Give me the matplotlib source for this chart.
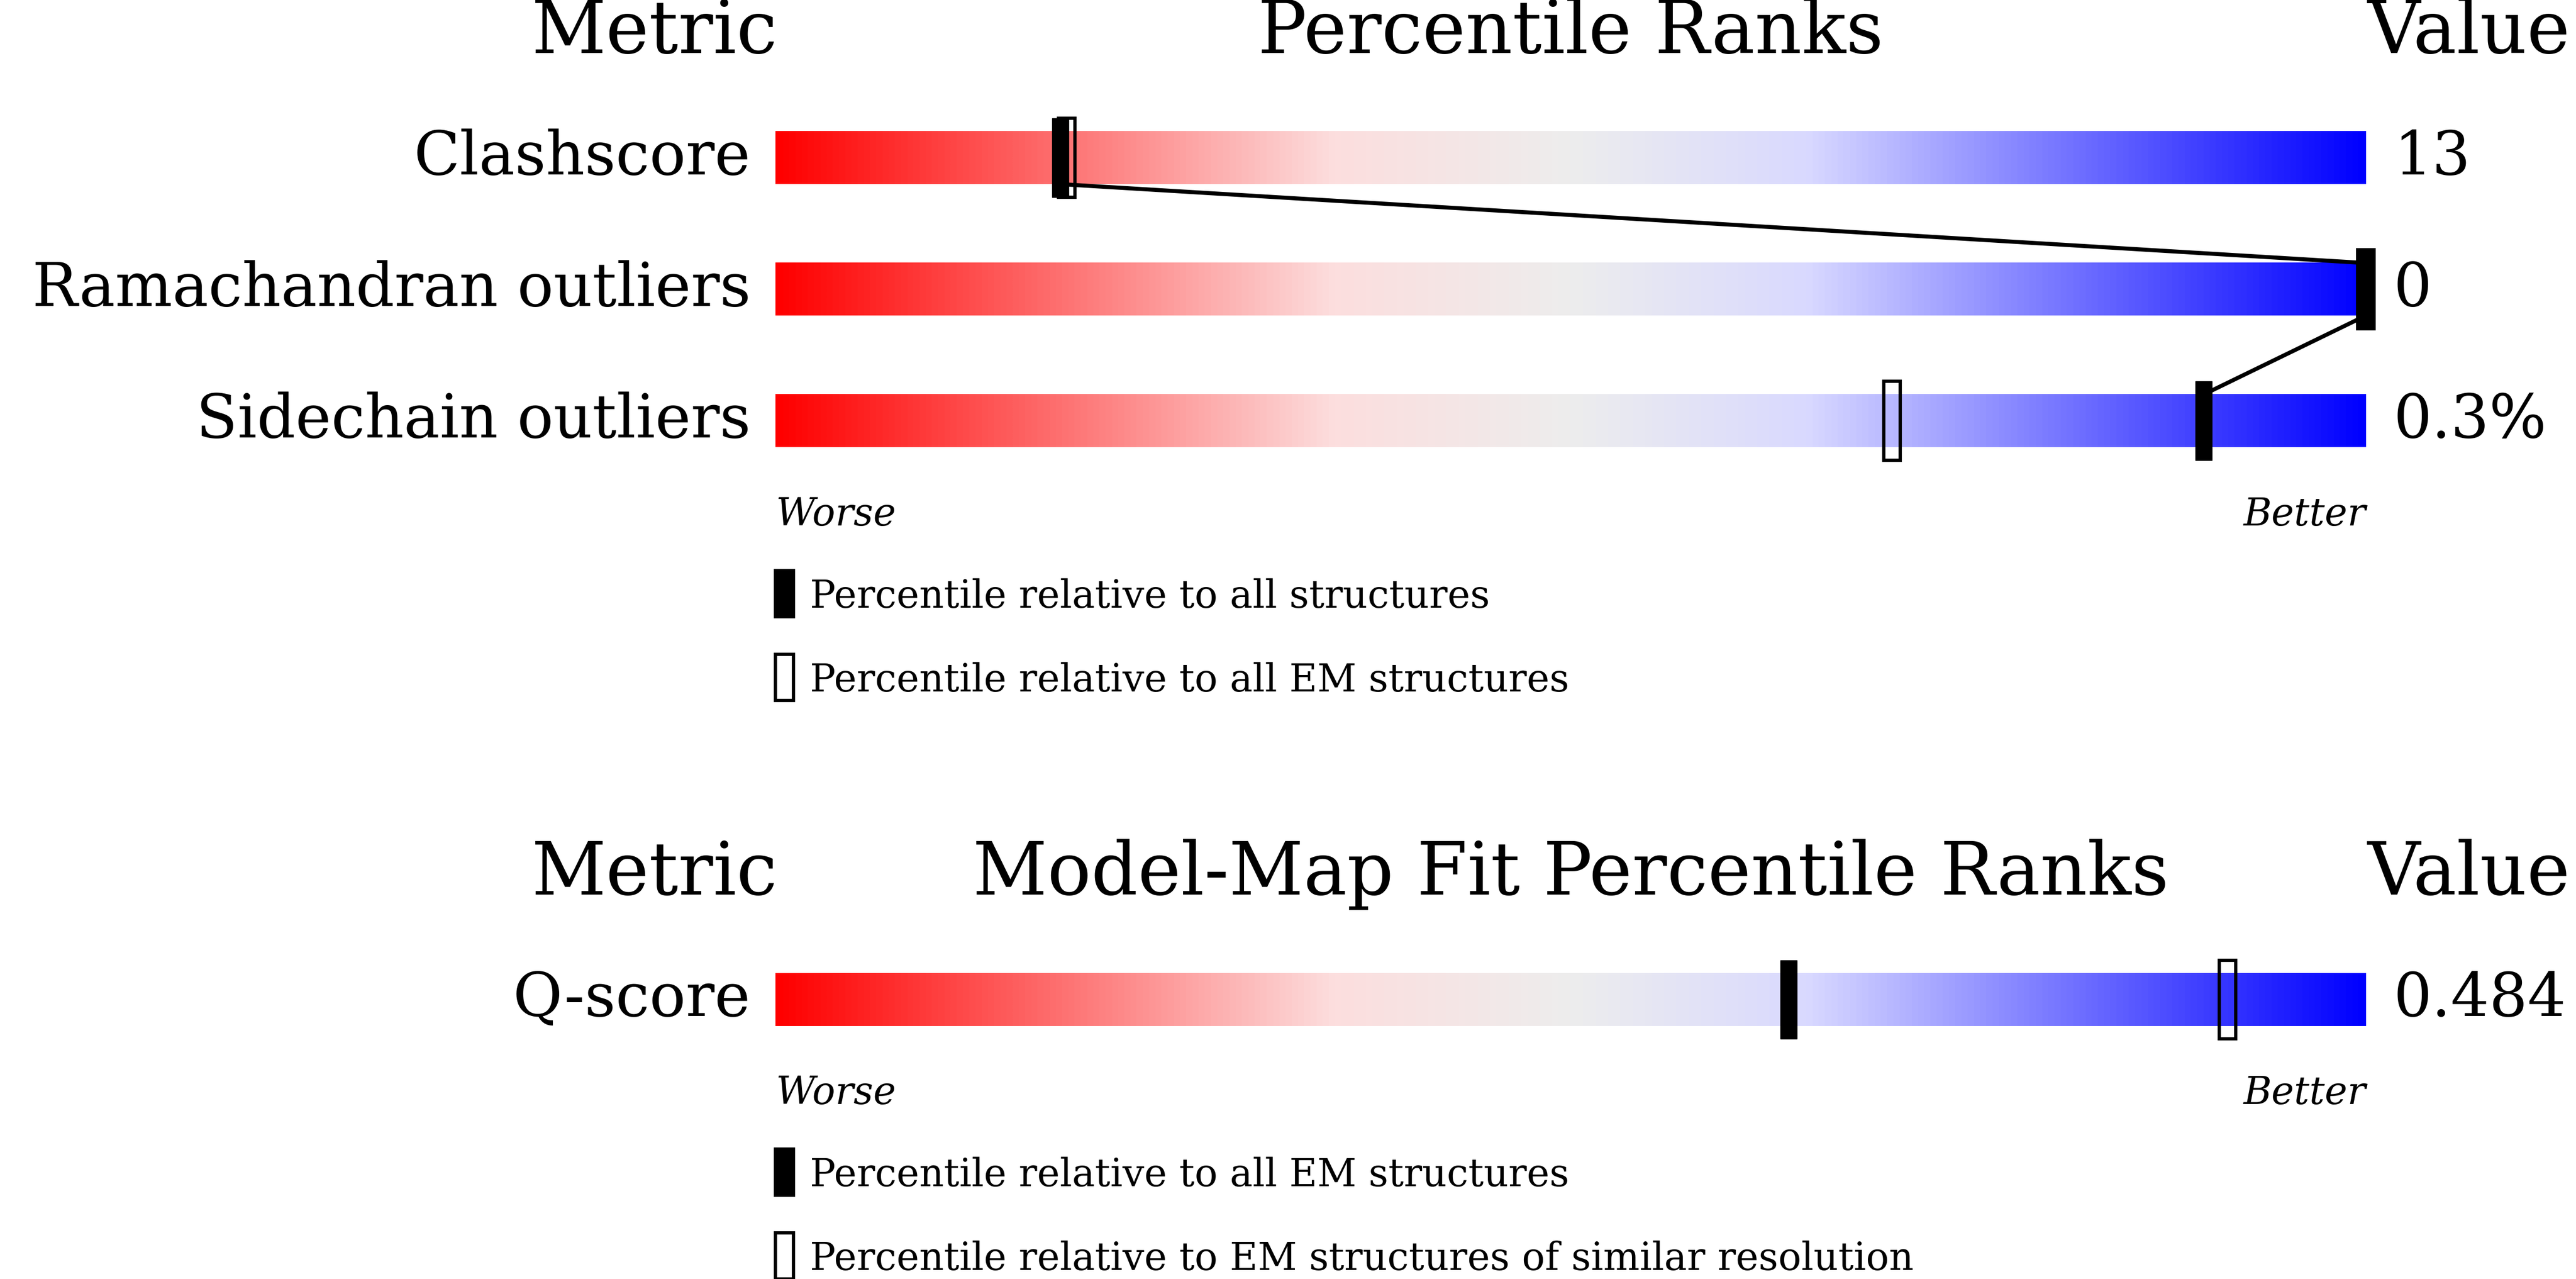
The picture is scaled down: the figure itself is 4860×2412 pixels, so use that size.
import matplotlib
matplotlib.use("Agg")
import matplotlib.pyplot as plt
import numpy as np
from matplotlib.colors import LinearSegmentedColormap
from matplotlib.patches import Rectangle

plt.rcParams["font.family"] = ["DejaVu Serif"]

# ----- data ----------------------------------------------------------
geo_metrics = ["Clashscore", "Ramachandran outliers", "Sidechain outliers"]
geo_values = ["13", "0", "0.3%"]
geo_all = [17.9, 100.0, 89.8]      # percentile vs all structures (filled)
geo_em = [18.3, 100.0, 70.2]       # percentile vs EM structures (open)

fit_metrics = ["Q-score"]
fit_values = ["0.484"]
fit_all_em = [63.7]                # vs all EM structures (filled)
fit_similar = [91.3]               # vs EM of similar resolution (open)

geo_legend = ["Percentile relative to all structures",
              "Percentile relative to all EM structures"]
fit_legend = ["Percentile relative to all EM structures",
              "Percentile relative to EM structures of similar resolution"]

# ----- layout (reference pixel grid 1568 x 778) ----------------------
W, H = 1568, 778
BAR_L, BAR_R = 472, 1440
PPX = (BAR_R - BAR_L) / 100.0     # display px per percent
BAR_H = 32
MARK_W = 10 / PPX
MARK_EXT = 8

cmap = LinearSegmentedColormap.from_list("rb", [
    (0.0, (1, 0, 0)), (0.35, (0.99, 0.87, 0.87)), (0.5, (0.93, 0.93, 0.93)),
    (0.65, (0.85, 0.85, 1.0)), (1.0, (0, 0, 1))])
grad = np.linspace(0, 1, 512).reshape(1, -1)

fig = plt.figure(figsize=(48.6, 24.12), dpi=100)
ax = fig.add_axes([BAR_L / W, 0, (BAR_R - BAR_L) / W, 1])
ax.set_xlim(0, 100)
ax.set_ylim(H, 0)
ax.axis("off")

def px(d):
    return d / PPX

TITLE_FS, LABEL_FS, SMALL_FS = 99, 82, 52


def panel(title, top, rows, values, filled, opened, legend, connect):
    ty = top
    ax.text(px(1), ty, "Metric", ha="right", va="center", fontsize=TITLE_FS, clip_on=False)
    ax.text(50, ty, title, ha="center", va="center", fontsize=TITLE_FS, clip_on=False)
    ax.text(100 + px(1), ty, "Value", ha="left", va="center", fontsize=TITLE_FS, clip_on=False)
    y0 = top + 60
    centers = []
    for i, (name, val, f, o) in enumerate(zip(rows, values, filled, opened)):
        yt = y0 + i * 80
        yc = yt + BAR_H / 2
        centers.append((f, yt))
        ax.imshow(grad, cmap=cmap, aspect="auto", extent=[0, 100, yt + BAR_H, yt],
                  interpolation="bilinear", zorder=1)
        ax.text(px(-15), yc, name, ha="right", va="center", fontsize=LABEL_FS, clip_on=False)
        ax.text(100 + px(17), yc, val, ha="left", va="center", fontsize=LABEL_FS, clip_on=False)
        ax.add_patch(Rectangle((o - MARK_W / 2, yt - MARK_EXT), MARK_W, BAR_H + 2 * MARK_EXT,
                               facecolor="none", edgecolor="black", lw=4.5, zorder=3, clip_on=False))
        ax.add_patch(Rectangle((f - MARK_W / 2, yt - MARK_EXT), MARK_W, BAR_H + 2 * MARK_EXT,
                               facecolor="black", edgecolor="black", lw=1, zorder=4, clip_on=False))
    if connect:
        for (f1, y1), (f2, y2) in zip(centers, centers[1:]):
            ax.plot([f1, f2], [y1 + BAR_H, y2], color="black", lw=5.5, zorder=5,
                    solid_capstyle="butt", clip_on=False)
    yb = y0 + (len(rows) - 1) * 80 + BAR_H
    ax.text(0, yb + 41, "Worse", ha="left", va="center", fontsize=SMALL_FS,
            style="italic", clip_on=False)
    ax.text(100, yb + 41, "Better", ha="right", va="center", fontsize=SMALL_FS,
            style="italic", clip_on=False)
    for j, lab in enumerate(legend):
        ly = yb + 75 + j * 51
        ax.add_patch(Rectangle((0, ly), px(11), 28,
                               facecolor="black" if j == 0 else "none",
                               edgecolor="black", lw=4.5, clip_on=False))
        ax.text(px(21), ly + 16, lab, ha="left", va="center", fontsize=SMALL_FS, clip_on=False)


panel("Percentile Ranks", 20, geo_metrics, geo_values, geo_all, geo_em, geo_legend, True)
panel("Model-Map Fit Percentile Ranks", 532, fit_metrics, fit_values, fit_all_em,
      fit_similar, fit_legend, False)

fig.savefig("out.png", dpi=100)
